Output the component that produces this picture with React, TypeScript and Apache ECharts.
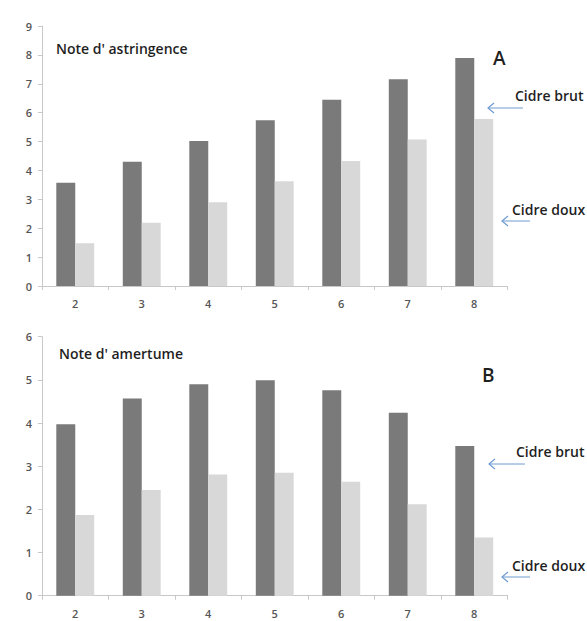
import React, { useEffect, useRef } from "react";
import * as echarts from "echarts";

const categories = ["2", "3", "4", "5", "6", "7", "8"];
const astringenceBrut = [3.57, 4.3, 5.02, 5.74, 6.45, 7.16, 7.89];
const astringenceDoux = [1.48, 2.19, 2.9, 3.63, 4.33, 5.07, 5.78];
const amertumeBrut = [3.97, 4.57, 4.9, 4.99, 4.76, 4.24, 3.47];
const amertumeDoux = [1.87, 2.45, 2.81, 2.85, 2.64, 2.12, 1.35];
const yMaxA = 9;
const yMaxB = 6;

const DARK = "#7a7a7a";
const LIGHT = "#d8d8d8";
const AXIS = "#c8c8c8";
const LABEL = "#555555";
const ARROW = "#6f9bd1";
const FONT = "Open Sans";

function arrow(x1: number, x2: number, y: number) {
  return [
    { type: "line", shape: { x1: x2, y1: y, x2: x1, y2: y }, style: { stroke: ARROW, lineWidth: 1 } },
    {
      type: "polyline",
      shape: { points: [[x1 + 6, y - 5], [x1, y], [x1 + 6, y + 5]] },
      style: { stroke: ARROW, lineWidth: 1.2, fill: null },
    },
  ];
}

function txt(text: string, x: number, y: number, size: number, weight: any = 600) {
  return {
    type: "text",
    x,
    y,
    style: { text, fontSize: size, fontFamily: FONT, fontWeight: weight, fill: "#1f1f1f", textVerticalAlign: "middle" },
  };
}

export default function App() {
  const ref = useRef<HTMLDivElement>(null);
  useEffect(() => {
    if (!ref.current) return;
    const chart = echarts.init(ref.current, null, { renderer: "svg" });
    const xAxisBase = (gridIndex: number) => ({
      type: "category",
      gridIndex,
      data: categories,
      axisLine: { lineStyle: { color: AXIS } },
      axisTick: { show: true, length: 4, lineStyle: { color: AXIS } },
      axisLabel: { color: LABEL, fontSize: 11, fontWeight: 600, fontFamily: FONT, margin: 12 },
    });
    const yAxisBase = (gridIndex: number, max: number) => ({
      type: "value",
      gridIndex,
      min: 0,
      max,
      interval: 1,
      axisLine: { show: true, lineStyle: { color: AXIS } },
      axisTick: { show: true, length: 4, lineStyle: { color: AXIS } },
      splitLine: { show: false },
      axisLabel: { color: LABEL, fontSize: 11, fontWeight: 600, fontFamily: FONT, margin: 10 },
    });
    const barBase = {
      type: "bar",
      barGap: "0%",
      barCategoryGap: "43%",
    };
    chart.setOption({
      animation: false,
      backgroundColor: "#ffffff",
      grid: [
        { left: 42, top: 26, width: 465.5, height: 260 },
        { left: 42, top: 336.7, width: 465.5, height: 259 },
      ],
      xAxis: [xAxisBase(0), xAxisBase(1)],
      yAxis: [yAxisBase(0, yMaxA), yAxisBase(1, yMaxB)],
      series: [
        { ...barBase, name: "Cidre brut", xAxisIndex: 0, yAxisIndex: 0, data: astringenceBrut, itemStyle: { color: DARK } },
        { ...barBase, name: "Cidre doux", xAxisIndex: 0, yAxisIndex: 0, data: astringenceDoux, itemStyle: { color: LIGHT } },
        { ...barBase, name: "Cidre brut", xAxisIndex: 1, yAxisIndex: 1, data: amertumeBrut, itemStyle: { color: DARK } },
        { ...barBase, name: "Cidre doux", xAxisIndex: 1, yAxisIndex: 1, data: amertumeDoux, itemStyle: { color: LIGHT } },
      ],
      graphic: [
        txt("Note d' astringence", 56, 48, 14),
        txt("A", 493, 58, 19),
        txt("Cidre brut", 515, 95, 14),
        txt("Cidre doux", 512, 209, 14),
        ...arrow(488, 523, 108),
        ...arrow(502, 530, 221),
        txt("Note d' amertume", 59, 353, 14),
        txt("B", 482, 375, 19),
        txt("Cidre brut", 516, 451, 14),
        txt("Cidre doux", 512, 565, 14),
        ...arrow(489, 525, 464),
        ...arrow(502, 530, 577),
      ],
    });
    return () => chart.dispose();
  }, []);
  return (
    <div
      ref={ref}
      style={{ position: "fixed", left: 0, top: 0, width: 587, height: 621, background: "#fff" }}
    />
  );
}
